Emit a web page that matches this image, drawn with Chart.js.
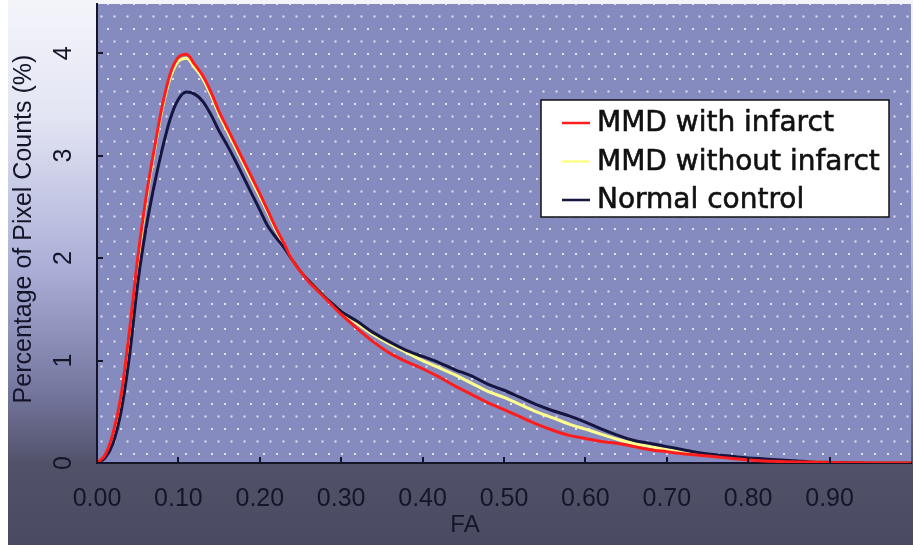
<!DOCTYPE html>
<html>
<head>
<meta charset="utf-8">
<title>FA histogram</title>
<script src="https://cdn.jsdelivr.net/npm/chart.js@4.4.1/dist/chart.umd.min.js"></script>
<style>
	html, body { margin: 0; padding: 0; background: #fff; }
	#histo { display: block; }
</style>
</head>
<body>
<canvas id="histo" width="913" height="550"></canvas>
<script>
/* FA histogram — MMD vs normal control */
(function () {
	'use strict';

	// ── Data ─────────────────────────────────────────────────────────────────

	var faBins = [
		0.00, 0.01, 0.02, 0.03, 0.04, 0.05, 0.06, 0.07, 0.08, 0.09,
		0.10, 0.11, 0.12, 0.13, 0.14, 0.15, 0.16, 0.17, 0.18, 0.19,
		0.20, 0.21, 0.22, 0.23, 0.24, 0.25, 0.26, 0.27, 0.28, 0.29,
		0.30,
		0.32, 0.34, 0.36, 0.38, 0.40, 0.42, 0.44, 0.46, 0.48, 0.50,
		0.52, 0.54, 0.56, 0.58, 0.60, 0.62, 0.64, 0.66, 0.68, 0.70,
		0.72, 0.74, 0.76, 0.78, 0.80, 0.82, 0.84, 0.86, 0.88, 0.90,
		0.92, 0.94, 0.96, 0.98, 1.00
	];

	var withInfarct = [
		0, 0.08, 0.30, 0.68, 1.30, 2.00, 2.58, 3.05, 3.48, 3.80,
		3.96, 3.99, 3.89, 3.78, 3.62, 3.43, 3.27, 3.11, 2.95, 2.79,
		2.63, 2.46, 2.29, 2.14, 1.98, 1.87, 1.77, 1.69, 1.61, 1.53,
		1.45,
		1.31, 1.18, 1.07, 0.99, 0.92, 0.84, 0.75, 0.67, 0.59, 0.52,
		0.45, 0.38, 0.32, 0.27, 0.24, 0.21, 0.19, 0.16, 0.13, 0.11,
		0.09, 0.075, 0.06, 0.045, 0.03, 0.02, 0.015, 0.01, 0.008, 0.005,
		0.003, 0.002, 0, 0, 0
	];

	var withoutInfarct = [
		0, 0.07, 0.27, 0.64, 1.25, 1.95, 2.54, 3.02, 3.45, 3.76,
		3.92, 3.95, 3.86, 3.75, 3.59, 3.40, 3.24, 3.08, 2.92, 2.76,
		2.60, 2.44, 2.27, 2.13, 1.98, 1.87, 1.78, 1.70, 1.62, 1.55,
		1.48,
		1.36, 1.25, 1.16, 1.08, 1.00, 0.93, 0.86, 0.78, 0.70, 0.64,
		0.57, 0.50, 0.44, 0.38, 0.33, 0.28, 0.23, 0.19, 0.16, 0.13,
		0.11, 0.085, 0.07, 0.05, 0.04, 0.03, 0.02, 0.015, 0.01, 0.006,
		0.003, 0.002, 0, 0, 0
	];

	var normalControl = [
		0, 0.05, 0.20, 0.52, 1.05, 1.75, 2.28, 2.70, 3.06, 3.36,
		3.55, 3.62, 3.60, 3.53, 3.40, 3.24, 3.10, 2.95, 2.79, 2.63,
		2.47, 2.31, 2.20, 2.10, 1.98, 1.87, 1.78, 1.70, 1.62, 1.55,
		1.48,
		1.38, 1.27, 1.18, 1.10, 1.04, 0.98, 0.91, 0.85, 0.77, 0.71,
		0.64, 0.57, 0.51, 0.46, 0.40, 0.33, 0.27, 0.22, 0.19, 0.16,
		0.13, 0.10, 0.08, 0.065, 0.05, 0.04, 0.03, 0.02, 0.01, 0.006,
		0.004, 0.002, 0, 0, 0
	];

	var xTickValues = [0, 0.1, 0.2, 0.3, 0.4, 0.5, 0.6, 0.7, 0.8, 0.9];
	var yTickValues = [0, 1, 2, 3, 4];

	var seriesNames  = ['MMD with infarct', 'MMD without infarct', 'Normal control'];
	var seriesColors = ['#ff1c1c', '#ffff8c', '#15153f'];
	var xTitle = 'FA';
	var yTitle = 'Percentage of Pixel Counts (%)';

	// ── Helpers ──────────────────────────────────────────────────────────────

	var INK  = '#15152a';
	var SANS = '"Liberation Sans", Arial, sans-serif';

	function points(values) {
		return faBins.map(function (fa, i) { return { x: fa, y: values[i] }; });
	}

	function dotPattern(ctx) {
		var c = document.createElement('canvas');
		c.width = 13; c.height = 25;
		var p = c.getContext('2d');
		p.fillStyle = 'rgba(255,255,255,0.75)';
		p.fillRect(3, 3, 2, 2);
		p.fillRect(9.5, 15.5, 2, 2);
		return ctx.createPattern(c, 'repeat');
	}

	// Backdrop: faded frame + dotted blue plot area.
	var backdrop = {
		id: 'backdrop',
		beforeDraw: function (chart) {
			var ctx = chart.ctx, a = chart.chartArea;
			ctx.save();
			ctx.fillStyle = '#ffffff';
			ctx.fillRect(0, 0, chart.width, chart.height);

			var g = ctx.createLinearGradient(0, 0, 0, 545);
			g.addColorStop(0.00, '#f4f5fb');
			g.addColorStop(0.22, '#e2e4f3');
			g.addColorStop(0.50, '#a9add6');
			g.addColorStop(0.72, '#74769e');
			g.addColorStop(0.85, '#515269');
			g.addColorStop(1.00, '#4a4b62');
			ctx.fillStyle = g;
			ctx.fillRect(8, 0, chart.width - 8, 545);

			ctx.fillStyle = '#868bbf';
			ctx.fillRect(a.left, a.top, a.right - a.left, a.bottom - a.top);
			ctx.fillStyle = dotPattern(ctx);
			ctx.fillRect(a.left, a.top, a.right - a.left, a.bottom - a.top);
			ctx.restore();
		}
	};

	// Inner tick marks, rotated y labels, axis titles and boxed legend.
	var overlay = {
		id: 'overlay',
		afterDraw: function (chart) {
			var ctx = chart.ctx, a = chart.chartArea;
			var xs = chart.scales.x, ys = chart.scales.y;
			ctx.save();

			ctx.strokeStyle = INK;
			ctx.lineWidth = 2;
			xs.ticks.forEach(function (t) {
				var px = Math.round(xs.getPixelForValue(t.value));
				ctx.beginPath(); ctx.moveTo(px, a.bottom); ctx.lineTo(px, a.bottom - 6); ctx.stroke();
			});
			ys.ticks.forEach(function (t) {
				var py = Math.round(ys.getPixelForValue(t.value));
				ctx.beginPath(); ctx.moveTo(a.left, py); ctx.lineTo(a.left + 6, py); ctx.stroke();
			});

			ctx.fillStyle = INK;
			ctx.textAlign = 'center';
			ctx.textBaseline = 'middle';
			ctx.font = '25px ' + SANS;
			ys.ticks.forEach(function (t) {
				var py = ys.getPixelForValue(t.value);
				ctx.save();
				ctx.translate(64, py);
				ctx.rotate(-Math.PI / 2);
				ctx.fillText(String(t.value), 0, 0);
				ctx.restore();
			});

			ctx.save();
			ctx.font = '25px ' + SANS;
			ctx.translate(24, 229);
			ctx.rotate(-Math.PI / 2);
			ctx.fillText(yTitle, 0, 0);
			ctx.restore();

			ctx.font = '24px ' + SANS;
			ctx.fillText(xTitle, 465, 525);

			// Legend box.
			var bx = 541, by = 100, bw = 348, bh = 117;
			ctx.fillStyle = '#ffffff';
			ctx.fillRect(bx, by, bw, bh);
			ctx.strokeStyle = '#111111';
			ctx.lineWidth = 1.5;
			ctx.strokeRect(bx, by, bw, bh);

			ctx.textAlign = 'left';
			ctx.font = '28px "DejaVu Sans", sans-serif';
			chart.data.datasets.forEach(function (ds, i) {
				var ly = 123 + i * 38.5;
				ctx.strokeStyle = ds.borderColor;
				ctx.lineWidth = 2.5;
				ctx.beginPath(); ctx.moveTo(562, ly); ctx.lineTo(590, ly); ctx.stroke();
				ctx.fillStyle = '#111111';
				ctx.strokeStyle = '#111111';
				ctx.lineWidth = 0.6;
				ctx.fillText(ds.label, 597, ly + 1);
				ctx.strokeText(ds.label, 597, ly + 1);
			});
			ctx.restore();
		}
	};

	// ── Chart ────────────────────────────────────────────────────────────────

	var sets = [withInfarct, withoutInfarct, normalControl];
	var drawOrder = [0, 2, 1];

	new Chart(document.getElementById('histo'), {
		type: 'line',
		data: {
			datasets: sets.map(function (vals, i) {
				return {
					label: seriesNames[i],
					data: points(vals),
					borderColor: seriesColors[i],
					backgroundColor: seriesColors[i],
					borderWidth: 3,
					pointRadius: 0,
					cubicInterpolationMode: 'monotone',
					order: drawOrder[i]
				};
			})
		},
		options: {
			responsive: false,
			animation: false,
			layout: { padding: { top: 4, right: 2, left: 0, bottom: 0 } },
			plugins: { legend: { display: false }, tooltip: { enabled: false } },
			scales: {
				x: {
					type: 'linear',
					min: 0,
					max: 1,
					afterBuildTicks: function (s) {
						s.ticks = xTickValues.map(function (v) { return { value: v }; });
					},
					afterFit: function (s) { s.height = 87; },
					ticks: {
						autoSkip: false,
						maxRotation: 0,
						padding: 21,
						color: INK,
						font: { family: SANS, size: 25 },
						callback: function (v) { return Number(v).toFixed(2); }
					},
					grid: { display: false, drawTicks: false },
					border: { display: true, color: INK, width: 2 }
				},
				y: {
					min: 0,
					max: 4.48,
					afterBuildTicks: function (s) {
						s.ticks = yTickValues.map(function (v) { return { value: v }; });
					},
					afterFit: function (s) { s.width = 97; },
					ticks: { display: false },
					grid: { display: false, drawTicks: false },
					border: { display: true, color: INK, width: 2 }
				}
			}
		},
		plugins: [backdrop, overlay]
	});
}());
</script>
</body>
</html>
